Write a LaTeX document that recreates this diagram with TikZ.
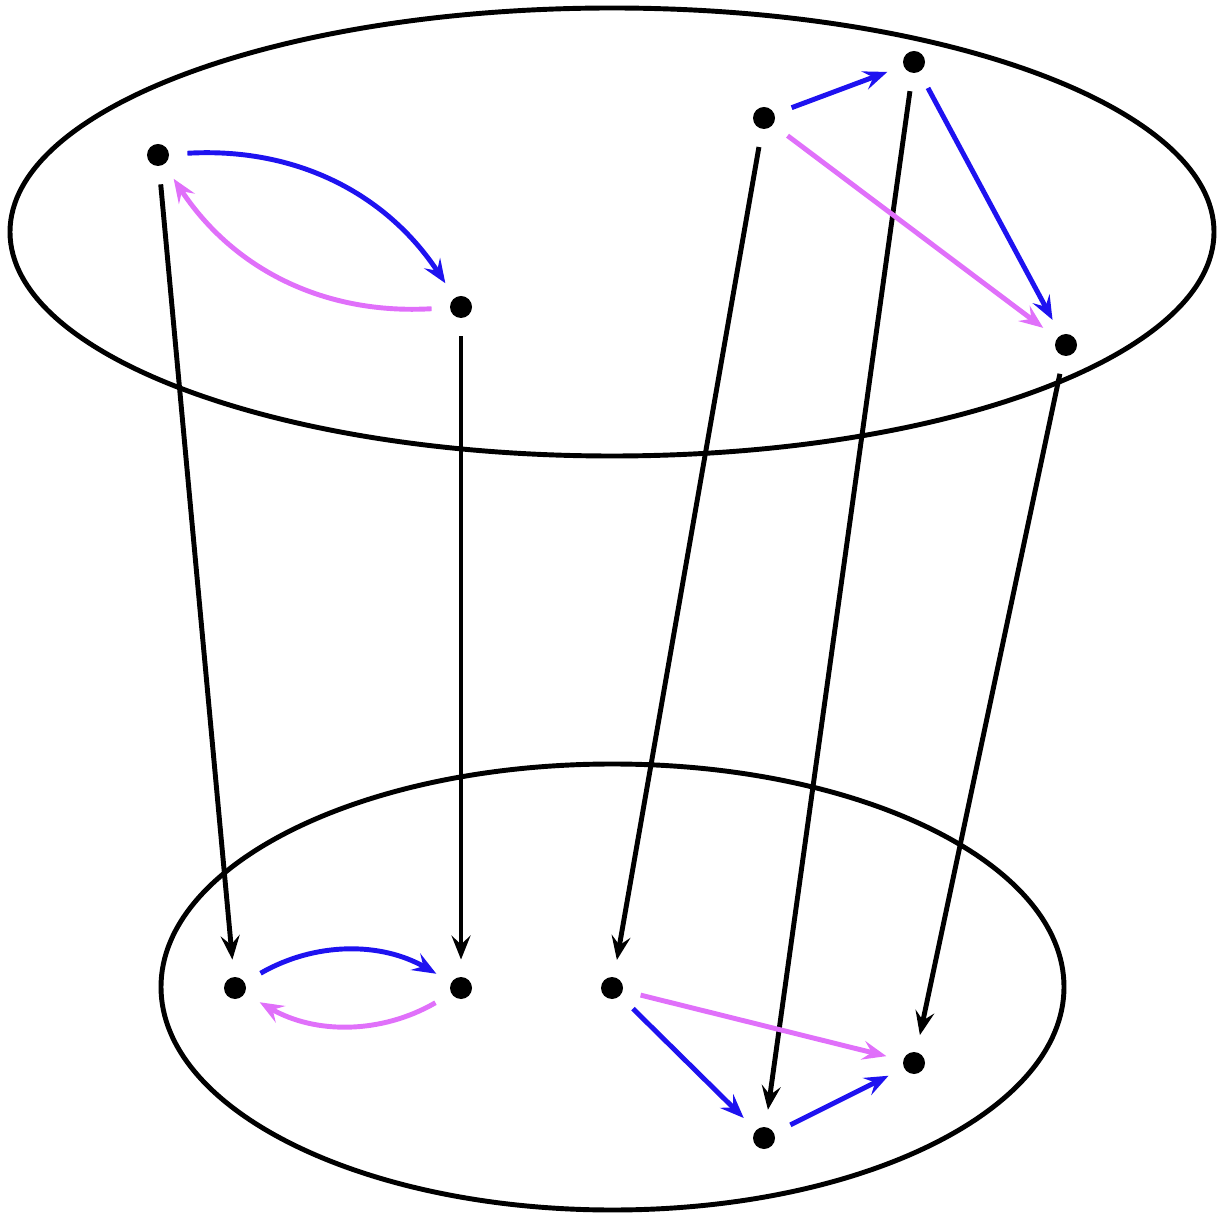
\documentclass[tikz,border=0pt]{standalone}
\usepackage{tikz}
\usetikzlibrary{arrows.meta}
\definecolor{mapblue}{RGB}{30,18,240}
\definecolor{mappink}{RGB}{224,112,250}

\begin{document}
\begin{tikzpicture}[
    line width=1.4pt,
    pt/.style={circle,fill=black,inner sep=0pt,minimum size=0.22cm},
    arrow/.style={-{Stealth[length=2.4mm,width=1.9mm,inset=0.9mm]},shorten <=0.16cm,shorten >=0.15cm},
    blu/.style={arrow,mapblue},
    pnk/.style={arrow,mappink}
  ]
    \useasboundingbox (0,0) rectangle (12.21,-12.13);
    % the two fibres
    \draw (6.12,-2.32) ellipse [x radius=6.02cm,y radius=2.24cm];
    \draw (6.125,-9.87) ellipse [x radius=4.515cm,y radius=2.23cm];
    % upper points
    \node[pt] (ta) at (1.58,-1.55) {};
    \node[pt] (tb) at (4.61,-3.07) {};
    \node[pt] (tc) at (7.64,-1.18) {};
    \node[pt] (td) at (9.14,-0.62) {};
    \node[pt] (te) at (10.66,-3.45) {};
    % lower points
    \node[pt] (ba) at (2.35,-9.88) {};
    \node[pt] (bb) at (4.61,-9.88) {};
    \node[pt] (bc) at (6.12,-9.88) {};
    \node[pt] (bd) at (9.14,-10.63) {};
    \node[pt] (be) at (7.64,-11.38) {};
    % maps down
    \draw[arrow] (ta) -- (ba);
    \draw[arrow] (tb) -- (bb);
    \draw[arrow] (tc) -- (bc);
    \draw[arrow] (td) -- (be);
    \draw[arrow] (te) -- (bd);
    % upper arrows
    \draw[blu] (ta) to[bend left=30] (tb);
    \draw[pnk] (tb) to[bend left=30] (ta);
    \draw[blu] (tc) -- (td);
    \draw[blu] (td) -- (te);
    \draw[pnk] (tc) -- (te);
    % lower arrows
    \draw[blu] (ba) to[bend left=30] (bb);
    \draw[pnk] (bb) to[bend left=30] (ba);
    \draw[blu] (bc) -- (be);
    \draw[blu] (be) -- (bd);
    \draw[pnk] (bc) -- (bd);
  \end{tikzpicture}
\end{document}
